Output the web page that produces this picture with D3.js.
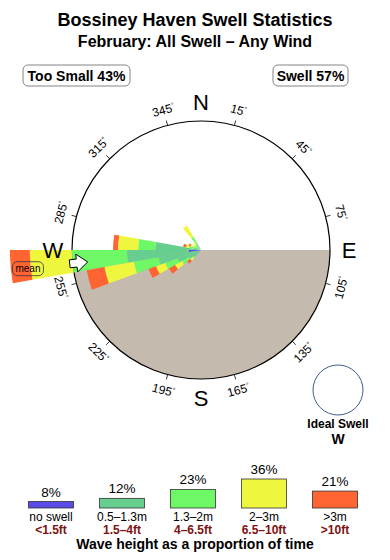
<!DOCTYPE html>
<html lang="en">
<head>
<meta charset="UTF-8">
<title>Bossiney Haven Swell Statistics</title>
<script src="https://d3js.org/d3.v7.min.js"></script>
<style>
    body { margin: 0; background: #fff; }
    svg { display: block; font-family: "Liberation Sans", Arial, sans-serif; }
</style>
</head>
<body>
<svg width="390" height="560"></svg>
<script>
    // swell directions (bin centres, degrees) and % of time per wave-height band
    const directions = [225, 235, 245, 255, 265, 275, 285, 295, 305, 315, 325];
    const noSwell  = [0,    0,    0,    0.03, 0.23, 0,    0,    0,    0,    0,    0];
    const band05   = [0.13, 0.31, 0.96, 2.87, 8.34, 3.29, 0.10, 0.04, 0.03, 0.03, 0.08];
    const band13   = [0.06, 0.45, 1.28, 4.34, 17.5, 2.90, 0.13, 0.06, 0.03, 0.05, 0.28];
    const band2    = [0.12, 0.65, 1.34, 7.79, 19.7, 4.57, 0.13, 0.09, 0.04, 0.08, 0.87];
    const band3    = [0.20, 0.73, 1.30, 6.02, 11.3, 1.34, 0.15, 0.08, 0,    0,    0];

    const bandKeys = ["none", "b05", "b13", "b2", "b3"];
    const bandColors = ["#5b4be6", "#66cf8f", "#6ef866", "#eff63e", "#ff6433"];
    const bandLabels = ["no swell", "0.5–1.3m", "1.3–2m", "2–3m", ">3m"];
    const bandFeet = ["<1.5ft", "1.5–4ft", "4–6.5ft", "6.5–10ft", ">10ft"];
    const bandPct = [8, 12, 23, 36, 21];

    const meanDir = 264;
    const tickAngles = [15, 45, 75, 105, 135, 165, 195, 225, 255, 285, 315, 345];
    const cardinals = [["N", 0], ["E", 90], ["S", 180], ["W", 270]];

    const svg = d3.select("svg");
    const cx = 201, cy = 250, R = 129;
    const rad = d => d * Math.PI / 180;
    const px = (deg, r) => cx + r * Math.sin(rad(deg));
    const py = (deg, r) => cy - r * Math.cos(rad(deg));

    // titles
    svg.append("text").attr("x", 195).attr("y", 26).attr("text-anchor", "middle")
        .attr("font-size", 18).attr("font-weight", "bold").text("Bossiney Haven Swell Statistics");
    svg.append("text").attr("x", 195).attr("y", 47).attr("text-anchor", "middle")
        .attr("font-size", 16).attr("font-weight", "bold").text("February: All Swell – Any Wind");

    // boxed summaries
    [["Too Small 43%", 23, 107], ["Swell 57%", 273, 75]].forEach(([t, x, w]) => {
        svg.append("rect").attr("x", x).attr("y", 65).attr("width", w).attr("height", 21)
            .attr("rx", 5).attr("fill", "none").attr("stroke", "#666").attr("stroke-width", 0.8);
        svg.append("text").attr("x", x + w / 2).attr("y", 80.5).attr("text-anchor", "middle")
            .attr("font-size", 14).attr("font-weight", "bold").text(t);
    });

    const g = svg.append("g").attr("transform", `translate(${cx},${cy})`);

    // land (southern half)
    g.append("path")
        .attr("d", d3.arc()({ innerRadius: 0, outerRadius: R, startAngle: rad(90), endAngle: rad(270) }))
        .attr("fill", "#c5baae");

    // circle outline and ticks
    g.append("circle").attr("r", R).attr("fill", "none").attr("stroke", "#000").attr("stroke-width", 1.2);
    g.selectAll(".tick").data(tickAngles).join("line")
        .attr("x1", d => R * Math.sin(rad(d))).attr("y1", d => -R * Math.cos(rad(d)))
        .attr("x2", d => (R + 5) * Math.sin(rad(d))).attr("y2", d => -(R + 5) * Math.cos(rad(d)))
        .attr("stroke", "#000").attr("stroke-width", 0.8);

    // petals (area-proportional, stacked by wave height)
    const rows = directions.map((d, i) => ({
        dir: d, none: noSwell[i], b05: band05[i], b13: band13[i], b2: band2[i], b3: band3[i]
    }));
    const stacked = d3.stack().keys(bandKeys)(rows);
    const r = d3.scaleSqrt().domain([0, 26]).range([0, R]);
    const color = d3.scaleOrdinal().domain(bandKeys).range(bandColors);
    const arc = d3.arc();

    g.selectAll(".band").data(stacked).join("g")
        .attr("fill", d => color(d.key))
        .selectAll("path").data(d => d).join("path")
        .attr("d", d => arc({
            innerRadius: r(d[0]), outerRadius: r(d[1]),
            startAngle: rad(d.data.dir - 5), endAngle: rad(d.data.dir + 5)
        }));

    // mean direction arrow
    const arrowPts = [[-3, -4], [4, -4], [4, -9], [15, 0], [4, 9], [4, 4], [-3, 4]];
    g.append("polygon")
        .attr("points", arrowPts.map(([u, v]) => [(R - u) * Math.sin(rad(meanDir)) + v * Math.cos(rad(meanDir)),
            -(R - u) * Math.cos(rad(meanDir)) + v * Math.sin(rad(meanDir))].join(",")).join(" "))
        .attr("fill", "#fff").attr("stroke", "#000").attr("stroke-width", 1);

    const mx = px(meanDir, 174), my = py(meanDir, 174);
    svg.append("rect").attr("x", mx - 15.5).attr("y", my - 6.5).attr("width", 31).attr("height", 14)
        .attr("rx", 5).attr("fill", "none").attr("stroke", "#333").attr("stroke-width", 0.8);
    svg.append("text").attr("x", mx).attr("y", my + 4).attr("text-anchor", "middle")
        .attr("font-size", 10).text("mean");

    // degree labels
    const degLab = svg.selectAll(".deg").data(tickAngles).join("text")
        .attr("text-anchor", "middle").attr("font-size", 12)
        .attr("transform", d => {
            const rot = d <= 90 ? d : d < 270 ? d - 180 : d - 360;
            return `translate(${px(d, 145)},${py(d, 145)}) rotate(${rot})`;
        })
        .attr("dy", "0.35em");
    degLab.append("tspan").text(d => d);
    degLab.append("tspan").attr("font-size", 7).attr("dy", "-0.6em").text("°");

    // cardinal letters
    svg.selectAll(".card").data(cardinals).join("text")
        .attr("x", d => px(d[1], 148)).attr("y", d => py(d[1], 148))
        .attr("dy", "0.36em").attr("text-anchor", "middle")
        .attr("font-size", 22).text(d => d[0]);

    // ideal swell
    svg.append("circle").attr("cx", 338).attr("cy", 390).attr("r", 25)
        .attr("fill", "#fff").attr("stroke", "#3d5f8c").attr("stroke-width", 1);
    svg.append("text").attr("x", 338).attr("y", 428).attr("text-anchor", "middle")
        .attr("font-size", 12).attr("font-weight", "bold").text("Ideal Swell");
    svg.append("text").attr("x", 338).attr("y", 444).attr("text-anchor", "middle")
        .attr("font-size", 14).attr("font-weight", "bold").text("W");

    // legend
    const lx = d3.scalePoint().domain(bandKeys).range([51, 335]);
    const lh = d3.scaleLinear().domain([0, 36]).range([0, 29]);
    const boxW = 45, base = 508;
    const leg = svg.selectAll(".leg").data(bandKeys).join("g");
    leg.append("rect")
        .attr("x", d => lx(d) - boxW / 2).attr("y", (d, i) => base - lh(bandPct[i]))
        .attr("width", boxW).attr("height", (d, i) => lh(bandPct[i]))
        .attr("fill", d => color(d)).attr("stroke", "#333").attr("stroke-width", 0.8);
    leg.append("text").attr("x", d => lx(d)).attr("y", (d, i) => base - lh(bandPct[i]) - 5)
        .attr("text-anchor", "middle").attr("font-size", 13.5).text((d, i) => bandPct[i] + "%");
    leg.append("text").attr("x", d => lx(d)).attr("y", 521)
        .attr("text-anchor", "middle").attr("font-size", 12).text((d, i) => bandLabels[i]);
    leg.append("text").attr("x", d => lx(d)).attr("y", 534)
        .attr("text-anchor", "middle").attr("font-size", 12).attr("font-weight", 600)
        .attr("fill", "#7d1212").text((d, i) => bandFeet[i]);
    svg.append("text").attr("x", 195).attr("y", 549).attr("text-anchor", "middle")
        .attr("font-size", 14).attr("font-weight", "bold").text("Wave height as a proportion of time");
</script>
</body>
</html>
